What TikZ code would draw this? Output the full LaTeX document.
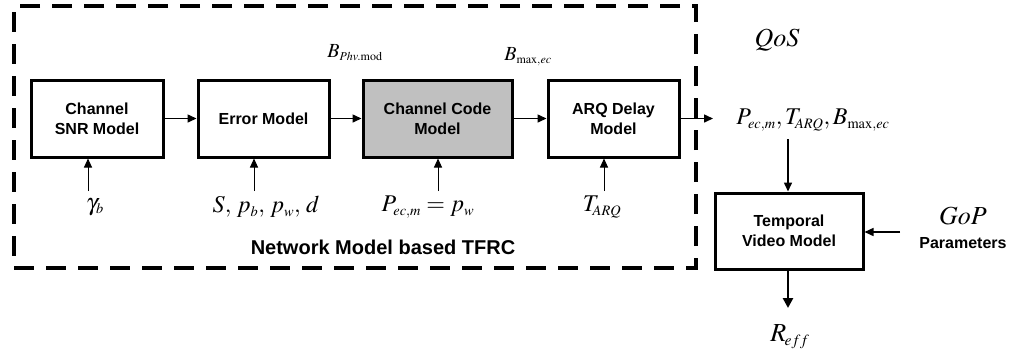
\documentclass[tikz,border=0pt]{standalone}
\usepackage{mathptmx}
\usepackage[no-math]{fontspec}
\newfontfamily\arialfont{Liberation Sans}
\usetikzlibrary{arrows.meta,positioning,calc}
\newcommand\ssub[1]{_{\scriptscriptstyle #1}}
\tikzset{
  blk/.style={draw, line width=3pt, minimum height=77pt, align=center,
    font=\arialfont\bfseries\fontsize{16}{20}\selectfont, inner sep=0pt},
  conn/.style={line width=1.5pt, -{Triangle[length=9pt,width=8pt]}},
  inarr/.style={line width=1pt, -{Triangle[length=9pt,width=8pt]}},
  mlab/.style={inner sep=0pt, font=\fontsize{24}{28}\selectfont},
  blab/.style={inner sep=0pt, font=\fontsize{26}{30}\selectfont},
  slab/.style={inner sep=0pt, font=\fontsize{20}{24}\selectfont},
}
\begin{document}
\begin{tikzpicture}[x=1pt,y=-1pt]
\useasboundingbox (0,0) rectangle (1013,360);
% frame
\node[draw, line width=4pt, dash pattern=on 20pt off 12pt, minimum width=682pt, minimum height=262pt, inner sep=0pt] (frame) at (355,137) {};
% blocks
\node[blk, minimum width=132pt] (b1) at (97,118.5) {Channel\\SNR Model};
\node[blk, minimum width=131pt] (b2) at (263.5,118.5) {Error Model};
\node[blk, minimum width=149pt, fill={rgb,255:red,192;green,192;blue,192}] (b3) at (437.5,118.5) {Channel Code\\Model};
\node[blk, minimum width=131pt] (b4) at (613.5,118.5) {ARQ Delay\\Model};
\node[blk, minimum width=148pt, minimum height=76pt] (tv) at (789,231) {Temporal\\Video Model};
% connectors between blocks
\draw[conn] (b1) -- (b2);
\draw[conn] (b2) -- (b3);
\draw[conn] (b3) -- (b4);
\coordinate (o4) at (713,118.5);
\draw[conn] (b4.east) -- (o4);
% top labels
\node[slab] (bphv) at (355,53) {$B\ssub{Phv.\mathrm{mod}}$};
\node[slab] (bmax) at (528,57) {$B\ssub{\max,ec}$};
\node[blab] (qos) at (777,40) {$QoS$};
\node[mlab] (out) at (813,120) {$P\ssub{ec,m},T\ssub{\!ARQ},B\ssub{\max,ec}$};
% inputs
\coordinate (i1) at (88,191);
\coordinate (i2) at (254,191);
\coordinate (i3) at (438,191);
\coordinate (i4) at (604,191);
\draw[inarr] (i1) -- (i1 |- b1.south);
\draw[inarr] (i2) -- (i2 |- b2.south);
\draw[inarr] (i3) -- (i3 |- b3.south);
\draw[inarr] (i4) -- (i4 |- b4.south);
\node[mlab] (l1) at (95,207) {$\gamma\ssub{b}$};
\node[mlab] (l2) at (266,207) {$S,\,p\ssub{b},\,p\ssub{w},\,d$};
\node[mlab] (l3) at (428,207) {$P\ssub{ec,m}=p\ssub{w}$};
\node[mlab] (l4) at (602,207) {$T\ssub{\!ARQ}$};
\node[font=\arialfont\bfseries\fontsize{20}{24}\selectfont, inner sep=0pt] (net) at (383,247) {Network Model based TFRC};
% temporal video
\coordinate (t0) at (788,139);
\draw[conn] (t0) -- (t0 |- tv.north);
\coordinate (g0) at (900,232);
\draw[conn] (g0) -- (g0 -| tv.east);
\coordinate (r0) at (788,308);
\draw[line width=2.5pt, -{Triangle[length=10pt,width=10pt]}] (tv.south -| r0) -- (r0);
\node[blab] (gop) at (963,216) {$GoP$};
\node[font=\arialfont\bfseries\fontsize{16}{20}\selectfont, inner sep=0pt] (par) at (963,243) {Parameters};
\node[blab] (reff) at (790,337) {$R\ssub{\!eff}$};
\end{tikzpicture}
\end{document}
